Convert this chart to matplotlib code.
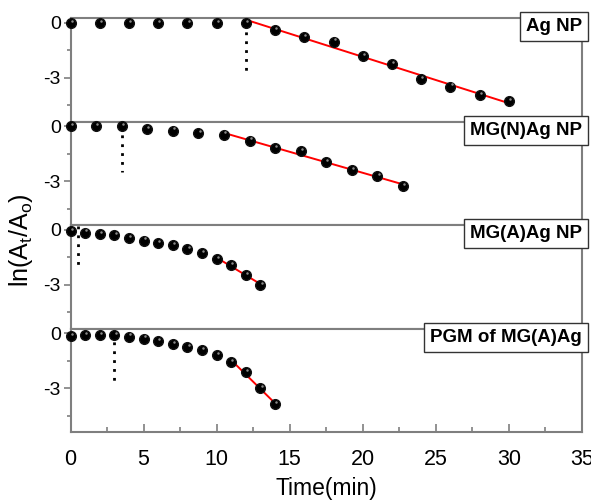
import numpy as np
import matplotlib
matplotlib.use("Agg")
import matplotlib.pyplot as plt
from matplotlib.ticker import MultipleLocator

plt.rcParams['font.family'] = ['Liberation Sans', 'DejaVu Sans']

# ---------------- data ----------------
labels = ["Ag NP", "MG(N)Ag NP", "MG(A)Ag NP", "PGM of MG(A)Ag"]

t_ag = [0, 2, 4, 6, 8, 10, 12, 14, 16, 18, 20, 22, 24, 26, 28, 30]
y_ag = [0, 0, 0, 0, 0, 0, 0, -0.41, -0.77, -1.02, -1.82, -2.25, -3.08, -3.48, -3.96, -4.28]

t_mgn = [0, 1.75, 3.5, 5.25, 7, 8.75, 10.5, 12.25, 14, 15.75, 17.5, 19.25, 21, 22.75]
y_mgn = [0, 0, 0.03, -0.14, -0.23, -0.35, -0.45, -0.78, -1.18, -1.36, -1.93, -2.4, -2.71, -3.28]

t_mga = [0, 1, 2, 3, 4, 5, 6, 7, 8, 9, 10, 11, 12, 13]
y_mga = [-0.05, -0.15, -0.22, -0.27, -0.45, -0.58, -0.73, -0.82, -1.05, -1.27, -1.58, -1.91, -2.46, -3.0]

t_pgm = [0, 1, 2, 3, 4, 5, 6, 7, 8, 9, 10, 11, 12, 13, 14]
y_pgm = [-0.15, -0.11, -0.11, -0.11, -0.18, -0.29, -0.4, -0.58, -0.73, -0.92, -1.19, -1.55, -2.13, -3.0, -3.88]

fit_start = [12, 10.5, 10, 11]           # start of linear region (min)
induction_t = [12, 3.5, 0.5, 3]          # dotted marker position (min)
induction_y = [(0, -2.75), (0, -2.48), (0.2, -2.15), (0, -2.67)]

series = [(t_ag, y_ag), (t_mgn, y_mgn), (t_mga, y_mga), (t_pgm, y_pgm)]

# ---------------- figure ----------------
fig = plt.figure(figsize=(5.91, 5.04), dpi=100)
left, right = 70.5 / 591, 582 / 591
top, bottom = 1 - 18.3 / 504, 1 - 432.3 / 504
h = (top - bottom) / 4
spine_col = "#7f7f7f"

axes = []
for i in range(4):
    ax = fig.add_axes([left, top - (i + 1) * h, right - left, h])
    axes.append(ax)
    t, y = series[i]
    t = np.array(t, float); y = np.array(y, float)
    ax.plot(t, y, 'o', color='black', ms=7, mec='#111111', clip_on=False, zorder=3)
    ax.plot(t + 0.08, y + 0.12, 'o', color='#8a8a8a', ms=1.8, mec='none', clip_on=False, zorder=4)
    m = t >= fit_start[i] - 1e-9
    k, b = np.polyfit(t[m], y[m], 1)
    xx = np.array([t[m][0], t[m][-1]])
    ax.plot(xx, k * xx + b, color='red', lw=1.4, zorder=2)
    ax.plot([induction_t[i]] * 2, induction_y[i], color='black', ls=(0, (1, 2.2)), lw=2.0, zorder=2)

    ax.set_xlim(0, 35)
    ax.set_ylim(-5.4, 0.25)
    ax.set_yticks([0, -3])
    ax.set_yticklabels(["0", "-3"])
    ax.yaxis.set_minor_locator(MultipleLocator(1.5))
    ax.tick_params(axis='y', which='major', direction='out', length=5, width=1.2, color=spine_col,
                   labelsize=14, pad=2)
    ax.tick_params(axis='y', which='minor', direction='out', length=3, width=1.2, color=spine_col)
    for s in ax.spines.values():
        s.set_color(spine_col)
        s.set_linewidth(1.5)
    ax.text(1.0, 1.0, labels[i], transform=ax.transAxes, ha='right', va='top',
            fontsize=13.5, fontweight='bold',
            bbox=dict(boxstyle='square,pad=0.32', fc='white', ec='#333333', lw=1.0), zorder=5)
    if i < 3:
        ax.tick_params(axis='x', which='both', bottom=False, labelbottom=False)
    else:
        ax.set_xticks([0, 5, 10, 15, 20, 25, 30, 35])
        ax.xaxis.set_minor_locator(MultipleLocator(2.5))
        ax.tick_params(axis='x', which='major', direction='in', length=6, width=1.2, color=spine_col,
                       labelsize=15.5, pad=12)
        ax.tick_params(axis='x', which='minor', direction='in', length=3.5, width=1.2, color=spine_col)
        ax.set_xlabel("Time(min)", fontsize=16.5, labelpad=5)

fig.text(0.036, 1 - 240 / 504, r"ln(A$_\mathregular{t}$/A$_\mathregular{o}$)",
         rotation=90, ha='center', va='center', fontsize=18)

fig.savefig("out.png", dpi=100)
